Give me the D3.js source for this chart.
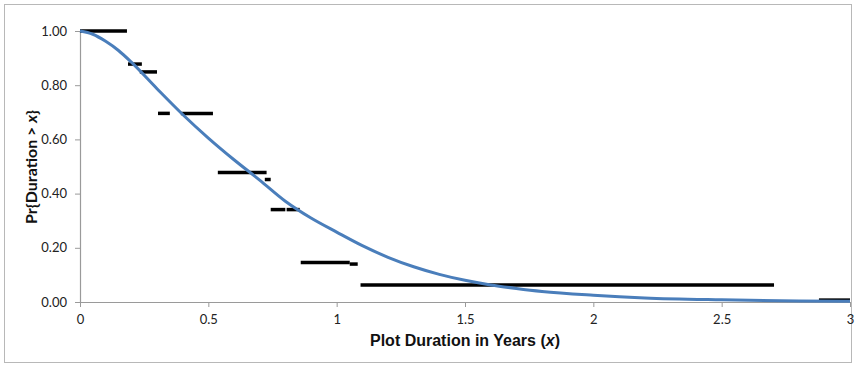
<!DOCTYPE html>
<html>
<head>
<meta charset="utf-8">
<script src="https://cdn.jsdelivr.net/npm/d3@7"></script>
<style>
  body { margin: 0; background: #fff; }
  svg { display: block; }
</style>
</head>
<body>
<svg id="chart" width="856" height="366"></svg>
<script>
// fitted survival curve
var curve_x = [0, 0.05, 0.1, 0.15, 0.2, 0.3, 0.4, 0.5, 0.6, 0.7, 0.8, 0.9,
               1.0, 1.1, 1.2, 1.3, 1.4, 1.5, 1.6, 1.7, 1.8, 2.0, 2.2, 2.5,
               2.8, 3.0];
var curve_y = [1.00, 0.988, 0.962, 0.928, 0.885, 0.787, 0.692, 0.605, 0.525,
               0.45, 0.372, 0.31, 0.258, 0.208, 0.165, 0.13, 0.102, 0.08,
               0.063, 0.05, 0.039, 0.025, 0.015, 0.008, 0.004, 0.003];

// empirical steps: [start, end] in years and the level
var step_start = [0, 0.187, 0.233, 0.304, 0.393, 0.537, 0.720, 0.743, 0.805,
                  0.860, 1.051, 1.093, 2.879];
var step_end   = [0.183, 0.241, 0.300, 0.350, 0.518, 0.727, 0.743, 0.800,
                  0.856, 1.051, 1.082, 2.704, 3.0];
var step_level = [1.00, 0.878, 0.849, 0.696, 0.696, 0.478, 0.452, 0.341,
                  0.341, 0.146, 0.140, 0.063, 0.007];

var x_ticks = [0, 0.5, 1, 1.5, 2, 2.5, 3];
var y_ticks = [0, 0.2, 0.4, 0.6, 0.8, 1.0];

var svg = d3.select('#chart');
var margin = {left: 80, top: 31};

// outer frame
svg.append('rect')
    .attr('x', 4.5).attr('y', 4.5)
    .attr('width', 847).attr('height', 358)
    .attr('fill', '#fff')
    .attr('stroke', '#b8b8b8')
    .attr('stroke-width', 1);

var g = svg.append('g')
    .attr('transform', 'translate(' + margin.left + ',' + margin.top + ')');

var x = d3.scaleLinear().domain([0, 3]).range([0, 770]);
var y = d3.scaleLinear().domain([0, 1]).range([271, 0]);

var x_axis = g.append('g')
    .attr('transform', 'translate(0,' + y(0) + ')')
    .call(d3.axisBottom(x).tickValues(x_ticks).tickSize(5).tickSizeOuter(0)
          .tickFormat(d3.format('')));
var y_axis = g.append('g')
    .call(d3.axisLeft(y).tickValues(y_ticks).tickSize(5).tickSizeOuter(0)
          .tickFormat(d3.format('.2f')));

[x_axis, y_axis].forEach(function (ax) {
    ax.select('.domain').attr('stroke', '#9a9a9a').attr('stroke-width', 1.2);
    ax.selectAll('.tick line').attr('stroke', '#9a9a9a');
    ax.selectAll('.tick text')
        .attr('fill', '#222')
        .style('font-family', 'Lato, sans-serif')
        .style('font-size', '13px');
});
x_axis.selectAll('.tick text').attr('y', 13);
y_axis.selectAll('.tick text').attr('x', -13);

// steps
var steps = step_start.map(function (s, i) {
    return {x0: s, x1: step_end[i], v: step_level[i]};
});
g.selectAll('line.step')
    .data(steps)
  .enter().append('line')
    .attr('class', 'step')
    .attr('x1', function (d) { return x(d.x0); })
    .attr('x2', function (d) { return x(d.x1); })
    .attr('y1', function (d) { return y(d.v); })
    .attr('y2', function (d) { return y(d.v); })
    .attr('stroke', '#000')
    .attr('stroke-width', 3.5);

// fitted curve
var pts = curve_x.map(function (v, i) { return [v, curve_y[i]]; });
g.append('path')
    .datum(pts)
    .attr('fill', 'none')
    .attr('stroke', '#4a7ebb')
    .attr('stroke-width', 3)
    .attr('d', d3.line()
        .x(function (d) { return x(d[0]); })
        .y(function (d) { return y(d[1]); })
        .curve(d3.curveMonotoneX));

// axis titles
var xt = svg.append('text')
    .attr('x', 465).attr('y', 346)
    .attr('text-anchor', 'middle')
    .style('font-family', 'Liberation Sans, Arial, sans-serif')
    .style('font-size', '16px')
    .style('font-weight', 'bold')
    .attr('fill', '#111');
xt.append('tspan').text('Plot Duration in Years (');
xt.append('tspan').style('font-style', 'italic').text('x');
xt.append('tspan').text(')');

var yt = svg.append('text')
    .attr('transform', 'translate(37,167) rotate(-90)')
    .attr('text-anchor', 'middle')
    .style('font-family', 'Lato, sans-serif')
    .style('font-size', '16px')
    .style('font-weight', 'bold')
    .attr('fill', '#111');
yt.append('tspan').text('Pr{Duration > ');
yt.append('tspan').style('font-style', 'italic').text('x');
yt.append('tspan').text('}');
</script>
</body>
</html>
